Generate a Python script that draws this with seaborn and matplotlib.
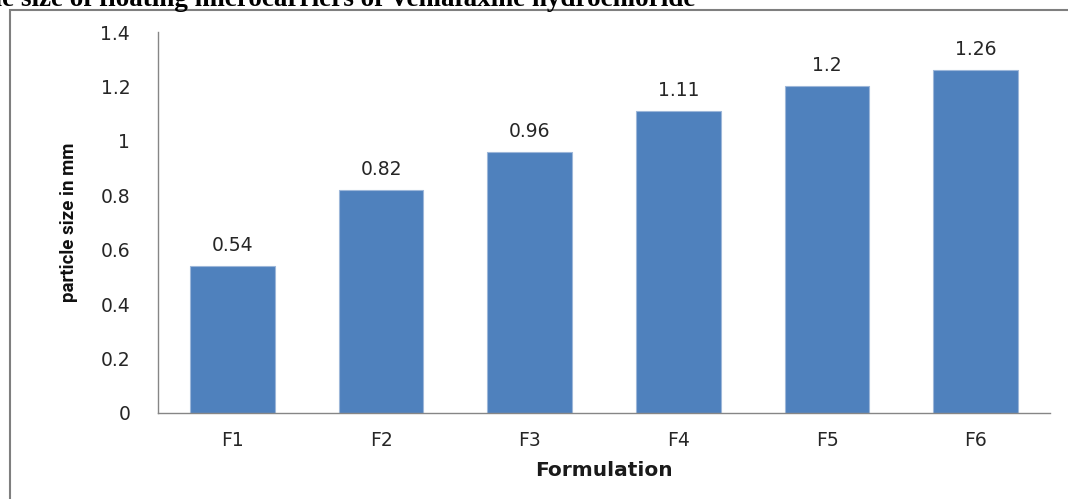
import matplotlib.pyplot as plt
import matplotlib.patches as mpatches
import pandas as pd
import seaborn as sns

# values
formulations = ['F1', 'F2', 'F3', 'F4', 'F5', 'F6']
particle_size = [0.54, 0.82, 0.96, 1.11, 1.2, 1.26]
yticks = [0, 0.2, 0.4, 0.6, 0.8, 1, 1.2, 1.4]
ytick_labels = ['0', '0.2', '0.4', '0.6', '0.8', '1', '1.2', '1.4']

title = 'Particle size of floating microcarriers of Venlafaxine hydrochloride'

sns.set_theme(style='white')
plt.rcParams['font.family'] = ['DejaVu Sans']

df = pd.DataFrame({'Formulation': formulations, 'size': particle_size})

fig = plt.figure(figsize=(10.68, 4.99), dpi=100)
ax = fig.add_axes([158 / 1068, 86 / 499, 892 / 1068, 381 / 499])

sns.barplot(data=df, x='Formulation', y='size', color='#4F81BD', saturation=1,
            width=0.57, edgecolor='#9DB7D9', linewidth=0.8, ax=ax)

for i, v in enumerate(particle_size):
    ax.annotate('{:g}'.format(v), (i, v), xytext=(0, 8), textcoords='offset points',
                ha='center', va='bottom', fontsize=13.5, color='#262626')

ax.set_xlim(-0.5, 5.5)
ax.set_ylim(0, 1.4)
ax.set_yticks(yticks)
ax.set_yticklabels(ytick_labels)
ax.tick_params(axis='both', length=0, labelsize=13.5, colors='#262626')
ax.tick_params(axis='y', pad=20)
ax.tick_params(axis='x', pad=13)

ax.set_xlabel('Formulation', fontsize=14.5, fontweight='bold', labelpad=8, color='#1a1a1a')
ax.set_ylabel('particle size in mm', fontsize=13.5, fontweight='bold', labelpad=16,
              family=['Roboto', 'DejaVu Sans'], color='#111111')

sns.despine(ax=ax)
for side in ['left', 'bottom']:
    ax.spines[side].set_color('#868686')
    ax.spines[side].set_linewidth(1)

# outer frame of the pasted chart
frame = mpatches.Rectangle((9.5 / 1068, -0.1), 1.2, 0.1 + 489 / 499,
                           transform=fig.transFigure, fill=False,
                           edgecolor='#7f7f7f', linewidth=1.5)
fig.patches.append(frame)

fig.text(695 / 1068, 493 / 499, title, ha='right', va='baseline', fontsize=19.5,
         fontweight='bold', family=['Liberation Serif', 'DejaVu Serif'], color='black')

fig.savefig('out.png', dpi=100)
